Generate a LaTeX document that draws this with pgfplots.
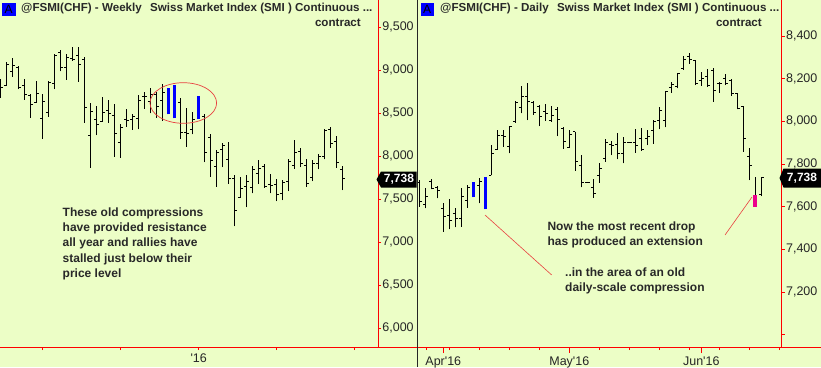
\documentclass[border=0pt]{standalone}
\usepackage{pgfplots}
\pgfplotsset{compat=1.18}
\usepackage{pgfplotstable}
\usepackage{fontspec}
\setmainfont{Liberation Sans}
\definecolor{bg}{RGB}{236,254,198}
\definecolor{txt}{RGB}{40,40,40}
\definecolor{annred}{RGB}{232,64,64}

\pgfplotstableread{
i H L O C
0 8896 8683 8760 8807
1 9091 8819 8826 9071
2 9137 8927 8993 9059
3 9044 8780 9032 8807
4 8904 8655 8819 8721
5 8721 8446 8710 8605
6 8881 8624 8624 8733
7 8721 8205 8438 8644
8 8877 8457 8516 8857
9 9188 8780 8846 9168
10 9238 8986 9207 9032
11 9188 8889 9032 9149
12 9265 9110 9137 9122
13 9265 8865 9176 9071
14 9149 8391 9129 8566
15 8617 7867 8244 8527
16 8585 8247 8430 8372
17 8694 8399 8411 8508
18 8652 8391 8535 8500
19 8605 7995 8477 8263
20 8372 7983 8158 8333
21 8547 8345 8430 8418
22 8488 8306 8430 8461
23 8710 8314 8438 8655
24 8749 8554 8694 8702
25 8791 8500 8636 8721
26 8749 8446 8721 8585
27 8838 8411 8652 8741
30 8683 8205 8632 8275
31 8558 8112 8275 8267
32 8516 8255 8314 8430
34 8488 7933 8461 8042
35 8255 7762 8216 7952
36 8069 7645 7886 8049
37 8150 7875 8080 8127
38 8170 7680 7964 7739
39 7777 7187 7738 7373
40 7758 7517 7517 7622
41 7777 7408 7653 7711
42 7886 7568 7634 7847
43 7952 7680 7801 7855
44 7906 7634 7886 7653
45 7789 7568 7672 7661
46 7731 7478 7672 7556
47 7719 7490 7564 7700
48 7964 7595 7711 7944
49 8189 7855 7894 8042
50 8096 7875 8053 7913
51 7964 7645 7894 7684
52 7952 7711 7758 7917
53 8022 7847 7917 8003
54 8321 7964 8003 8306
55 8341 8100 8314 8150
56 8236 7867 8178 7925
57 7886 7606 7847 7739
}\leftbars
\pgfplotstableread{
i H L
28 8799 8488
29 8826 8442
33 8698 8430
}\leftblue

\pgfplotstableread{
i H L O C
0 7725 7600 7712 7623
1 7689 7592 7612 7650
2 7730 7681 7720 7686
3 7697 7639 7690 7675
4 7616 7483 7590 7553
5 7634 7494 7561 7534
6 7592 7503 7570 7545
7 7689 7506 7545 7650
8 7700 7595 7630 7690
10 7733 7616 7702 7720
12 7889 7748 7748 7850
13 7959 7866 7869 7936
14 7959 7881 7936 7931
15 7980 7850 7881 7975
16 8097 7994 7998 8087
17 8166 8037 8066 8116
18 8181 8006 8116 8092
19 8097 8030 8089 8041
20 8077 7978 8070 8025
21 8081 8003 8045 8037
22 8072 7998 8003 8030
23 8066 7931 8056 8009
24 7972 7871 7967 7905
25 7959 7876 7878 7941
26 7951 7769 7952 7811
27 7842 7691 7795 7714
28 7718 7711 7716 7714
29 7728 7642 7691 7660
30 7806 7712 7745 7780
31 7916 7811 7827 7900
32 7909 7842 7894 7889
33 7947 7822 7894 7850
34 7925 7803 7850 7900
35 7904 7900 7902 7901
36 7962 7853 7900 7889
37 7967 7862 7920 7869
38 7958 7889 7920 7930
39 8006 7894 7959 8000
40 8069 7962 8003 8050
41 8144 7972 8003 8139
42 8183 8134 8159 8175
43 8228 8155 8162 8225
44 8306 8241 8248 8290
45 8319 8269 8306 8290
46 8287 8170 8284 8178
47 8233 8166 8194 8200
48 8244 8162 8212 8170
49 8248 8092 8241 8144
50 8186 8134 8178 8178
51 8222 8170 8201 8178
52 8197 8119 8194 8131
53 8131 8056 8131 8061
54 8072 7858 8070 7920
55 7873 7725 7837 7795
57 7741 7650 7656 7738
}\rightbars
\pgfplotstableread{
i H L
9 7717 7644
11 7741 7587
}\rightblue
\pgfplotstableread{
i H L
56 7741 7655
}\rightplain
\pgfplotstableread{
i H L
56 7655 7600
}\rightmag

\pgfplotsset{nomark/.style={only marks, mark=*, mark size=0pt, mark options={draw=none, fill=none}}}

\newcommand{\rangebars}[3]{%
  \addplot[nomark, error bars/.cd, y dir=plus, y explicit, error mark=none,
    error bar style={#2, line width=#3}]
    table[x=i, y=L, y error expr=\thisrow{H}-\thisrow{L}] {#1};
}
\newcommand{\ohlc}[1]{%
  \rangebars{#1}{black}{1pt}
  \addplot[nomark, error bars/.cd, x dir=minus, x fixed=0.45, error mark=none,
    error bar style={black, line width=0.75pt}]
    table[x=i, y=O] {#1};
  \addplot[nomark, error bars/.cd, x dir=plus, x fixed=0.45, error mark=none,
    error bar style={black, line width=0.75pt}]
    table[x=i, y=C] {#1};
}

\pgfplotsset{
  common/.style={scale only axis, height=347pt,
    axis x line*=bottom, axis y line*=right,
    axis line style={draw=red, line width=0.8pt, -},
    tick align=outside, major tick length=3pt,
    tick style={red, line width=0.7pt},
    yticklabel style={font=\fontsize{12.5}{13}\selectfont, text=black!85, inner sep=0pt, xshift=1.2pt},
    xticklabel style={font=\fontsize{12.5}{13}\selectfont, text=black!85},
  }
}

\begin{document}
\begin{tikzpicture}[x=1pt,y=1pt]
\useasboundingbox (0,0) rectangle (821,-367);
\fill[bg] (0,0) rectangle (821,-367);

% ---------- left: weekly ----------
\begin{axis}[common,
  at={(0pt,0pt)}, anchor=north west, width=378pt,
  xmin=-0.117, xmax=62.88, ymin=5783, ymax=9817,
  xtick={7,20,33,46,59}, xticklabels={,,\textquotesingle16,,},
  ytick={6000,6500,7000,7500,8000,8500,9000,9500},
  yticklabels={{6,000},{6,500},{7,000},{7,500},{8,000},{8,500},{9,000},{9,500}},
]
\ohlc{\leftbars}
\rangebars{\leftblue}{blue}{3pt}
\end{axis}

% ---------- right: daily ----------
\begin{axis}[common,
  at={(417.3pt,0pt)}, anchor=north west, width=364.4pt,
  xmin=-0.33, xmax=60.4, ymin=6942, ymax=8569,
  xtick={1.1,5,10,15,20,30,35,40,45,50,55,60}, xticklabels={},
  extra x ticks={4,25,47},
  extra x tick labels={Apr\textquotesingle16,May\textquotesingle16,Jun\textquotesingle16},
  extra x tick style={major tick length=6pt, tick style={red, line width=0.7pt}},
  ytick={7000,7200,7400,7600,7800,8000,8200,8400},
  yticklabels={,{7,200},{7,400},{7,600},{7,800},{8,000},{8,200},{8,400}},
]
\ohlc{\rightbars}
\rangebars{\rightplain}{black}{1pt}
\rangebars{\rightblue}{blue}{3.2pt}
\rangebars{\rightmag}{magenta}{4pt}
\end{axis}

% frame lines
\draw[red, line width=0.8pt] (0,-347) -- (416.5,-347);
\draw[red, line width=0.8pt] (417.3,-347) -- (821,-347);
\draw[black!85, line width=1pt] (417.3,0) -- (417.3,-367);

% titles
\fill[blue] (2,-3) rectangle (15.5,-16);
\node[font=\fontsize{12}{12}\selectfont, text=black] at (8.75,-9.7) {A};
\node[anchor=west, inner sep=0pt, font=\bfseries\fontsize{11.6}{13}\selectfont, text=txt] at (21,-9)
  {@FSMI(CHF) - Weekly\hspace{5pt} Swiss Market Index (SMI ) Continuous ...};
\node[anchor=east, inner sep=0pt, font=\bfseries\fontsize{11.6}{13}\selectfont, text=txt] at (361,-23) {contract};

\fill[blue] (420.5,-3) rectangle (433.8,-16);
\node[font=\fontsize{12}{12}\selectfont, text=black] at (427.2,-9.7) {A};
\node[anchor=west, inner sep=0pt, font=\bfseries\fontsize{11.6}{13}\selectfont, text=txt] at (440,-9)
  {@FSMI(CHF) - Daily\hspace{5pt} Swiss Market Index (SMI ) Continuous ...};
\node[anchor=east, inner sep=0pt, font=\bfseries\fontsize{11.6}{13}\selectfont, text=txt] at (762,-23) {contract};

% last-price tags
\fill[black] (376.5,-179.5) -- (381,-171.5) -- (416.5,-171.5) -- (416.5,-187.5) -- (381,-187.5) -- cycle;
\node[font=\bfseries\fontsize{12}{13}\selectfont, text=white] at (399,-179.5) {7,738};
\fill[black] (779.5,-178) -- (783.5,-168.5) -- (821,-168.5) -- (821,-187.5) -- (783.5,-187.5) -- cycle;
\node[font=\bfseries\fontsize{12}{13}\selectfont, text=white] at (802,-178) {7,738};

% annotations
\draw[annred, line width=0.7pt] (183.3,-103) ellipse (33.3 and 20.3);
\draw[annred, line width=0.6pt] (485,-215) -- (551.7,-275);
\draw[annred, line width=0.6pt] (725,-235) -- (752,-197);

\node[anchor=north west, align=left, inner sep=0pt, font=\bfseries\fontsize{12}{15.2}\selectfont, text=txt] at (62.5,-207.5)
  {These old compressions\\have provided resistance\\all year and rallies have\\stalled just below their\\price level};
\node[anchor=north west, align=left, inner sep=0pt, font=\bfseries\fontsize{12}{15}\selectfont, text=txt] at (547.3,-221.3)
  {Now the most recent drop\\has produced an extension};
\node[anchor=north west, align=left, inner sep=0pt, font=\bfseries\fontsize{12}{15}\selectfont, text=txt] at (565,-268)
  {..in the area of an old\\daily-scale compression};
\end{tikzpicture}
\end{document}
